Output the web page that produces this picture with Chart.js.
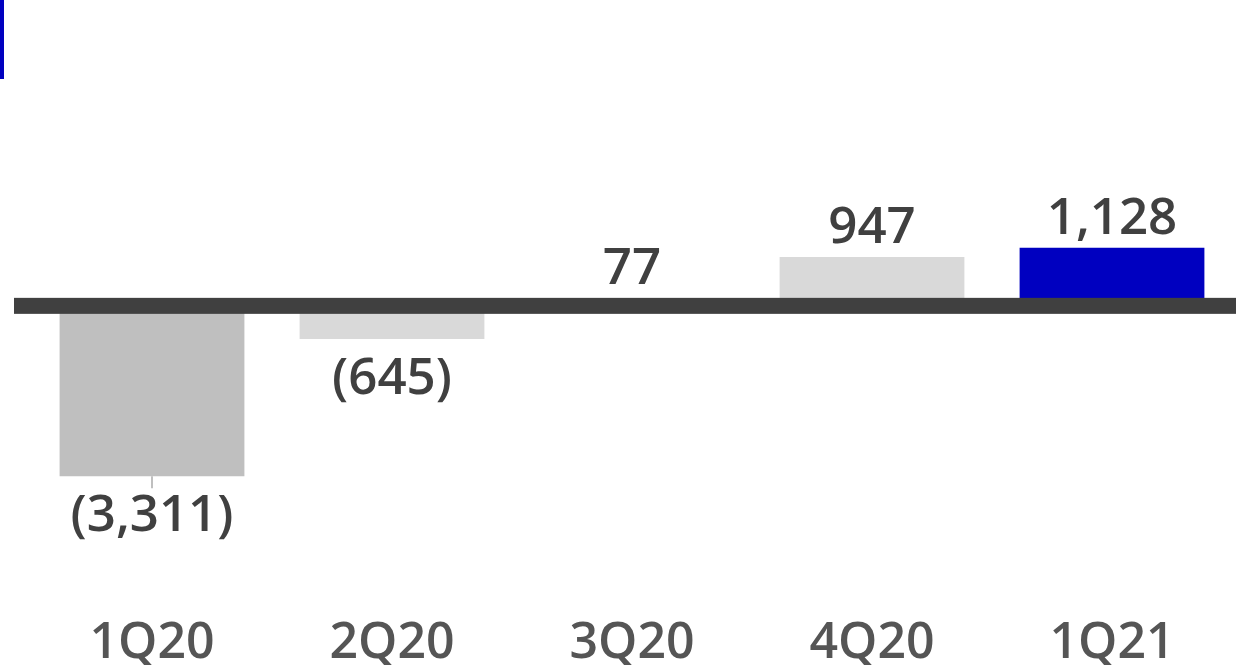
<!DOCTYPE html>
<html>
<head>
<meta charset="utf-8">
<script src="https://cdn.jsdelivr.net/npm/chart.js@4.4.1/dist/chart.umd.min.js"></script>
<style>
	html, body { margin: 0; padding: 0; background: #fff; }
	#wrap { position: relative; width: 1236px; height: 665px; }
	#accent { position: absolute; left: 0; top: 0; width: 4px; height: 79px; background: #0000c0; }
</style>
</head>
<body>
<div id="wrap">
	<div id="accent"></div>
	<canvas id="barChart"></canvas>
</div>
<script>
const trimestres = ["1Q20", "2Q20", "3Q20", "4Q20", "1Q21"];
const valores = [-3311, -645, 77, 947, 1128];
const colores = ["#bfbfbf", "#d9d9d9", "#d9d9d9", "#d9d9d9", "#0000c0"];

const fuente = "'Open Sans', 'Noto Sans', sans-serif";

function formato(v) {
	const s = Math.abs(v).toLocaleString("en-US");
	return v < 0 ? "(" + s + ")" : s;
}

// Línea base gruesa y etiquetas de valor
const etiquetas = {
	id: "etiquetas",
	afterDatasetsDraw(chart) {
		const ctx = chart.ctx;
		const y0 = chart.scales.y.getPixelForValue(0);
		const meta = chart.getDatasetMeta(0);

		ctx.save();
		ctx.fillStyle = "#404040";
		ctx.fillRect(14, y0 - 8, chart.width - 14, 16);

		ctx.font = "600 51px " + fuente;
		ctx.textAlign = "center";
		ctx.textBaseline = "alphabetic";
		meta.data.forEach((bar, i) => {
			const v = valores[i];
			ctx.fillStyle = "#404040";
			if (v >= 0) {
				const top = Math.min(bar.y, y0 - 8);
				ctx.fillText(formato(v), bar.x, top - 14);
			} else {
				if (i === 0) {
					ctx.strokeStyle = "#bfbfbf";
					ctx.lineWidth = 2;
					ctx.beginPath();
					ctx.moveTo(bar.x, bar.y);
					ctx.lineTo(bar.x, bar.y + 12);
					ctx.stroke();
				}
				ctx.fillText(formato(v), bar.x, bar.y + 55);
			}
		});
		ctx.restore();
	}
};

const ctx = document.getElementById("barChart").getContext("2d");
new Chart(ctx, {
	type: "bar",
	data: {
		labels: trimestres,
		datasets: [{
			data: valores,
			backgroundColor: colores,
			borderWidth: 0,
			barPercentage: 0.77,
			categoryPercentage: 1
		}]
	},
	options: {
		responsive: true,
		maintainAspectRatio: false,
		animation: false,
		layout: { autoPadding: false, padding: { left: 32, right: 4, top: 100, bottom: 0 } },
		plugins: {
			legend: { display: false },
			tooltip: { enabled: false }
		},
		scales: {
			x: {
				grid: { display: false, drawTicks: false },
				border: { display: false },
				afterFit(scale) {
					scale.height = 143;
					scale.paddingLeft = 0;
					scale.paddingRight = 0;
				},
				ticks: {
					color: "#555555",
					padding: 97,
					maxRotation: 0,
					font: { family: fuente, size: 50, weight: "600", lineHeight: 1 }
				}
			},
			y: {
				display: false,
				min: -4200,
				max: 4000
			}
		}
	},
	plugins: [etiquetas]
});
</script>
</body>
</html>
